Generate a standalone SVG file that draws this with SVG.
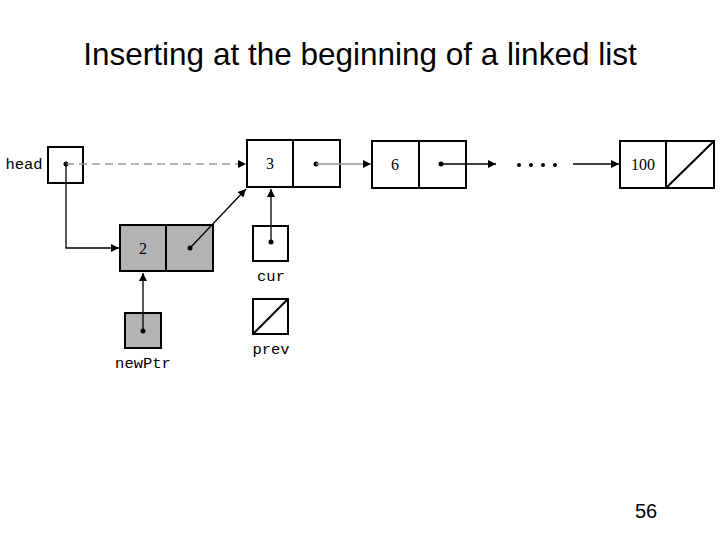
<svg xmlns="http://www.w3.org/2000/svg" width="720" height="540" viewBox="0 0 720 540">
<style>
.b{fill:#fff;stroke:#000;stroke-width:2}
.g{fill:#b3b3b3;stroke:#000;stroke-width:2}
.l{stroke:#000;stroke-width:1.3;fill:none}
.n{font-family:"Liberation Serif",serif;font-size:16px;text-anchor:middle}
.m{font-family:"Liberation Mono",monospace;font-size:15.5px;text-anchor:middle}
</style>
<defs><marker id="a" viewBox="0 0 10 10" refX="10" refY="5" markerWidth="10" markerHeight="8" markerUnits="userSpaceOnUse" orient="auto"><path d="M0,0L10,5L0,10z"/></marker></defs>
<rect width="720" height="540" fill="#fff"/>
<text x="360" y="65" font-family="Liberation Sans,Arial,sans-serif" font-size="31.5" text-anchor="middle">Inserting at the beginning of a linked list</text>
<text x="646" y="518" font-family="Liberation Sans,Arial,sans-serif" font-size="20" text-anchor="middle">56</text>
<g id="head"><rect class="b" x="48" y="147" width="35" height="36"/><circle cx="66" cy="164" r="2.5"/><text class="m" x="24" y="169">head</text></g>
<g id="n3"><rect class="b" x="247" y="140" width="93" height="47"/><line x1="293" y1="140" x2="293" y2="187" stroke="#000" stroke-width="2"/><text class="n" x="270" y="169">3</text><circle cx="316" cy="164" r="2.5"/></g>
<g id="n6"><rect class="b" x="372" y="141" width="94" height="47"/><line x1="419" y1="141" x2="419" y2="188" stroke="#000" stroke-width="2"/><text class="n" x="395" y="170">6</text><circle cx="441" cy="164" r="2.5"/></g>
<g id="n100"><rect class="b" x="620" y="141" width="94" height="47"/><line x1="666" y1="141" x2="666" y2="188" stroke="#000" stroke-width="2"/><line x1="666" y1="188" x2="714" y2="141" stroke="#000" stroke-width="2"/><text class="n" x="643" y="170">100</text></g>
<g id="n2"><rect class="g" x="120" y="225" width="93" height="46"/><line x1="166" y1="225" x2="166" y2="271" stroke="#000" stroke-width="2"/><text class="n" x="143" y="254">2</text><circle cx="190" cy="248" r="2.5"/></g>
<g id="cur"><rect class="b" x="253" y="226" width="35" height="35"/><circle cx="271" cy="242" r="2.5"/><text class="m" x="271" y="281">cur</text></g>
<g id="prev"><rect class="b" x="253" y="299" width="35" height="35"/><line x1="253" y1="334" x2="288" y2="299" stroke="#000" stroke-width="2"/><text class="m" x="271" y="354">prev</text></g>
<g id="newPtr"><rect class="g" x="125" y="313" width="36" height="35"/><circle cx="143" cy="331" r="2.5"/><text class="m" x="143" y="368">newPtr</text></g>
<g id="connectors">
<line x1="66" y1="164" x2="246" y2="164" stroke="#999" stroke-width="1.3" stroke-dasharray="8,5" marker-end="url(#a)"/>
<path class="l" d="M66,164V248H119" marker-end="url(#a)"/>
<line class="l" x1="190" y1="248" x2="246" y2="189" marker-end="url(#a)"/>
<line class="l" x1="271" y1="242" x2="271" y2="189" marker-end="url(#a)"/>
<line class="l" x1="143" y1="331" x2="143" y2="273" marker-end="url(#a)"/>
<line x1="316" y1="164" x2="371" y2="164" stroke="#999" stroke-width="1.3" marker-end="url(#a)"/>
<line class="l" x1="441" y1="164" x2="496" y2="164" marker-end="url(#a)"/>
<line class="l" x1="573" y1="164" x2="619" y2="164" marker-end="url(#a)"/>
<g fill="#000"><circle cx="519" cy="165" r="2"/><circle cx="531" cy="165" r="2"/><circle cx="543" cy="165" r="2"/><circle cx="555" cy="165" r="2"/></g>
</g>
</svg>
